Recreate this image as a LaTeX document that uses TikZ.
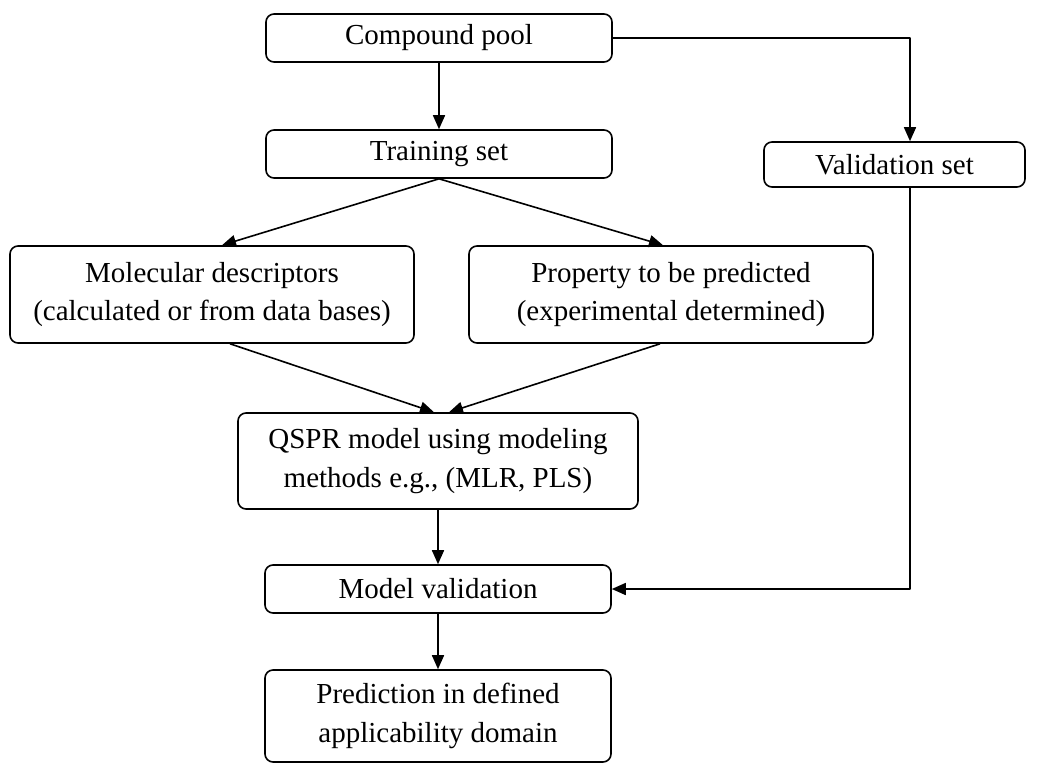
\documentclass[tikz,border=0pt]{standalone}
\usepackage{fontspec}
\setmainfont{Liberation Serif}
\usetikzlibrary{arrows.meta}
\tikzset{
  stage/.style={draw, line width=1.6pt, rounded corners=8pt, align=center,
    inner sep=0pt, minimum width=#1},
  stage/.default=346pt,
}
\begin{document}
\begin{tikzpicture}[x=1pt, y=-1pt, line width=1.6pt, line join=round,
  font=\fontsize{29}{38.5}\selectfont, >={Triangle[length=14pt,width=12pt]}]
\useasboundingbox (0,0) rectangle (1042,764);
% boxes
\node[stage, minimum height=48pt] (pool) at (439,38) {Compound pool};
\node[stage, minimum height=48pt] (train) at (439,154) {Training set};
\node[stage=261pt, minimum height=45pt] (valid) at (894.5,164.5) {Validation set};
\node[stage=404pt, minimum height=97pt] (desc) at (212,294.5)
  {Molecular descriptors\\(calculated or from data bases)};
\node[stage=404pt, minimum height=97pt] (prop) at (671,294.5)
  {Property to be predicted\\(experimental determined)};
\node[stage=400pt, minimum height=96pt] (qspr) at (438,461)
  {QSPR model using modeling\\methods e.g., (MLR, PLS)};
\node[stage, minimum height=48pt] (mval) at (438,589) {Model validation};
\node[stage, minimum height=92pt] (pred) at (438,716)
  {Prediction in defined\\applicability domain};
% connectors
\draw[->] (pool) -- (train);
\draw[->] (pool.east) -| ([xshift=15.5pt]valid.north);
\draw[->] (train.south) -- ([xshift=10pt]desc.north);
\draw[->] (train.south) -- ([xshift=-8pt]prop.north);
\draw[->] ([xshift=18pt]desc.south) -- ([xshift=-4pt]qspr.north);
\draw[->] ([xshift=-11pt]prop.south) -- ([xshift=11pt]qspr.north);
\draw[->] (qspr) -- (mval);
\draw[->] (mval) -- (pred);
\draw[->] ([xshift=15.5pt]valid.south) |- (mval.east);
\end{tikzpicture}
\end{document}
